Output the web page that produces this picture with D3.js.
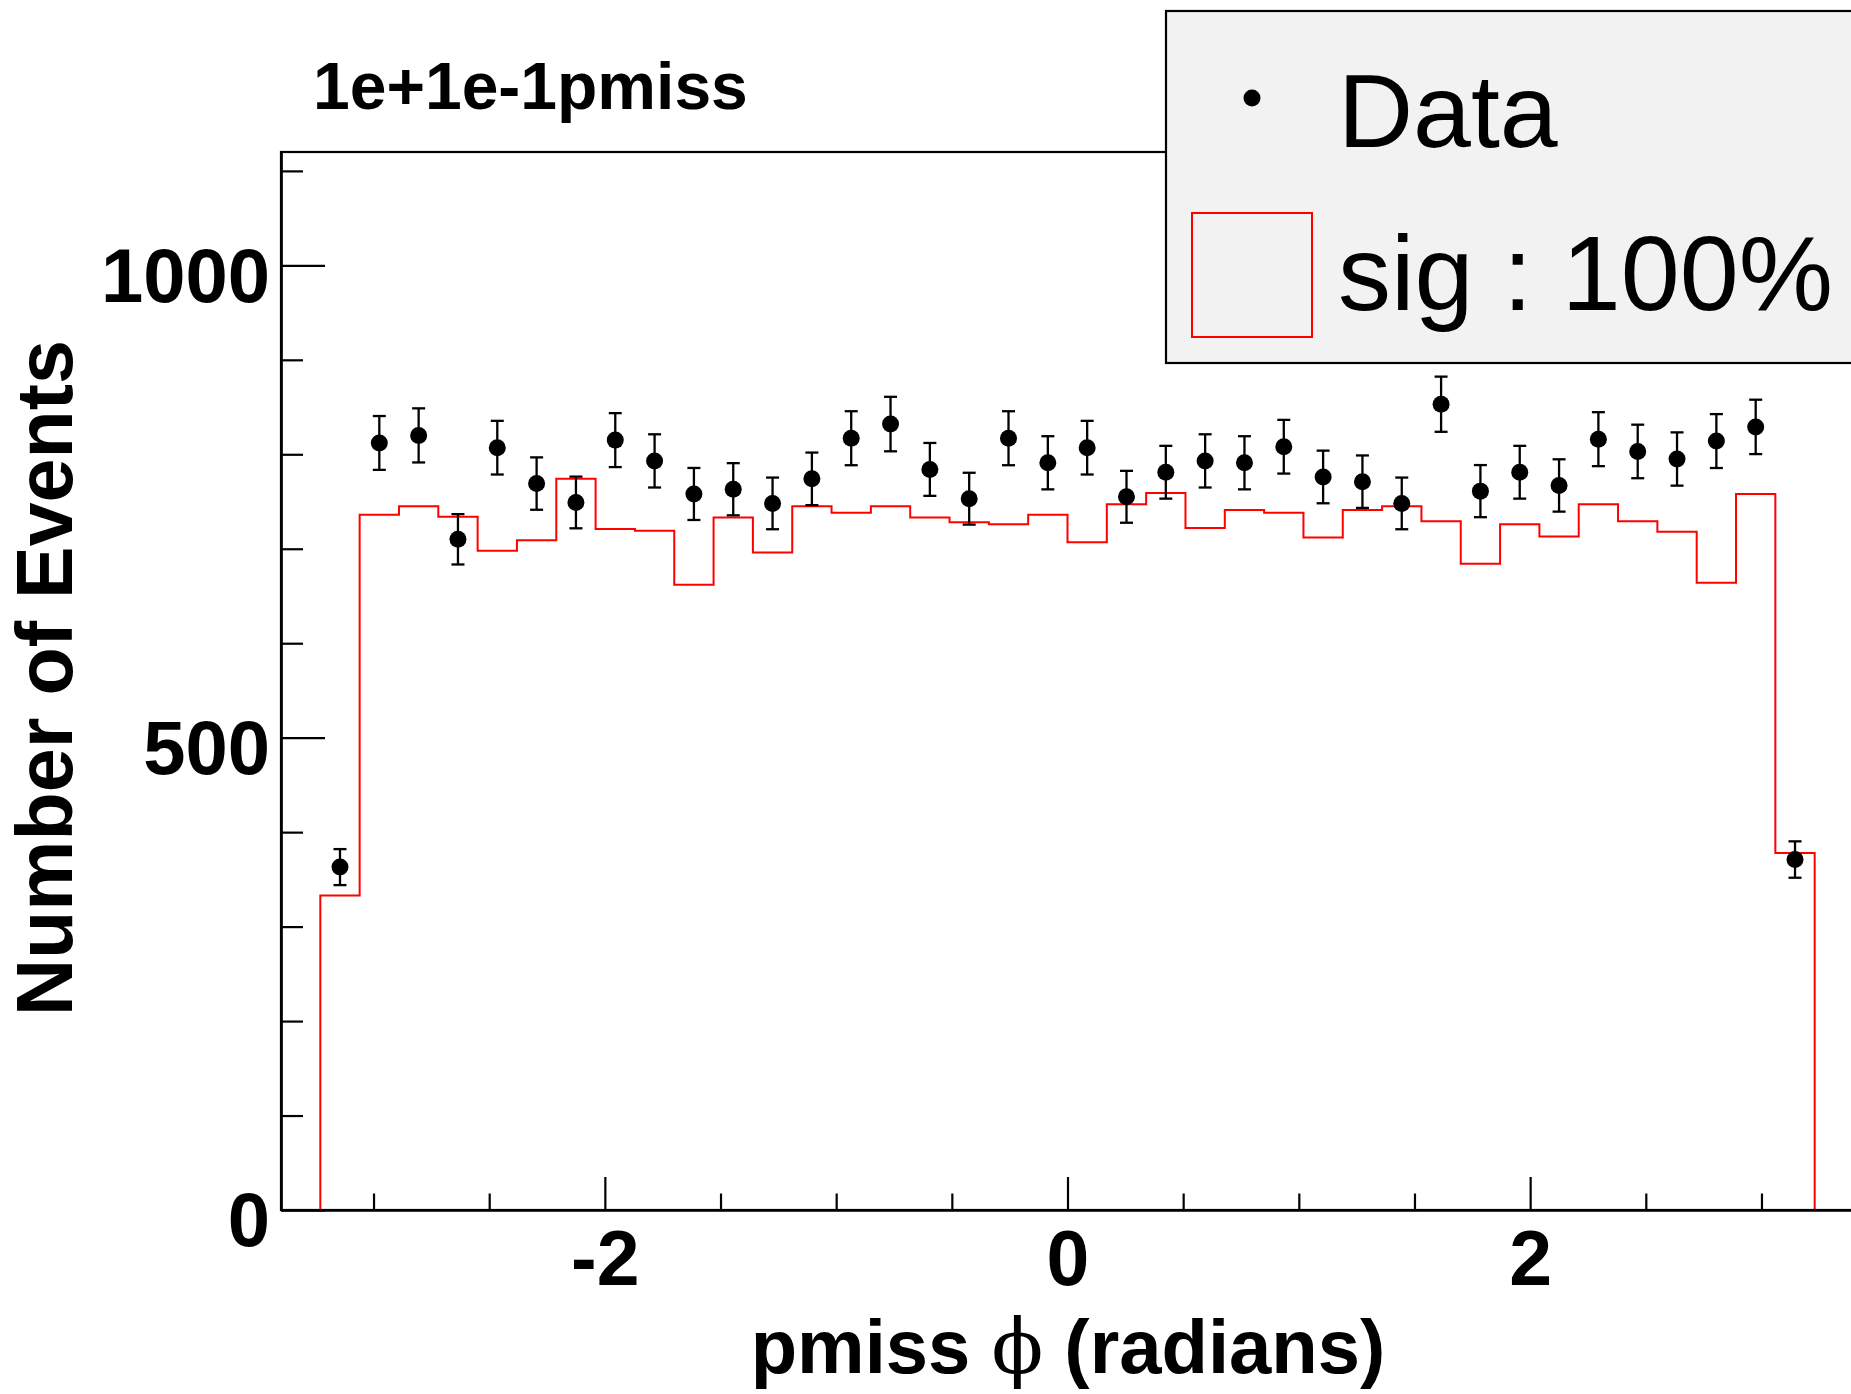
<!DOCTYPE html>
<html>
<head>
<meta charset="utf-8">
<script src="https://cdn.jsdelivr.net/npm/d3@7"></script>
<style>
  html, body { margin: 0; padding: 0; background: #ffffff; }
  svg { display: block; }
  text { font-family: "Liberation Sans", Arial, Helvetica, sans-serif; }
</style>
</head>
<body>
<script>
// pmiss phi distribution: 38 bins from -3.23 to 3.23 rad
const binLow = -3.23;
const binWidth = 0.17;
const dataCounts = [363, 812, 820, 710, 807, 769, 749, 815, 793, 758, 763, 748, 774, 817, 832, 784, 753, 817, 791,
                    807, 755, 781, 793, 791, 808, 776, 771, 748, 853, 761, 781, 767, 816, 803, 795, 814, 829, 371];
const sigCounts  = [333, 736, 745, 734, 698, 709, 774, 721, 719, 662, 733, 696, 745, 738, 745, 733, 728, 726, 736,
                    707, 747, 759, 722, 741, 738, 712, 741, 745, 729, 684, 726, 713, 747, 729, 718, 664, 758, 378];
const xMajorTicks = [-2, 0, 2];
const xMinorTicks = [-3, -2.5, -1.5, -1, -0.5, 0.5, 1, 1.5, 2.5, 3];
const yMajorTicks = [0, 500, 1000];
const yMinorTicks = [100, 200, 300, 400, 600, 700, 800, 900, 1100];
const titleText = "1e+1e-1pmiss";
const legendLabels = ["Data", "sig : 100%"];

const W = 1851, H = 1394;
const frame = { left: 281, top: 152, right: 1854, bottom: 1210 };

const svg = d3.select("body").append("svg")
  .attr("width", W).attr("height", H)
  .attr("viewBox", `0 0 ${W} ${H}`);

const x = d3.scaleLinear().domain([-3.4, 3.4]).range([frame.left, frame.right]);
const y = d3.scaleLinear().domain([0, 1120]).range([frame.bottom, frame.top]);

// signal histogram outline (step line, running along zero outside the filled range)
const edges = d3.range(sigCounts.length + 1).map(i => binLow + i * binWidth);
const stepPts = [[x.domain()[0], 0], [edges[0], 0]];
sigCounts.forEach((v, i) => { stepPts.push([edges[i], v]); stepPts.push([edges[i + 1], v]); });
stepPts.push([edges[edges.length - 1], 0]);
stepPts.push([x.domain()[1], 0]);
svg.append("path")
  .attr("d", d3.line().x(d => x(d[0])).y(d => y(d[1]))(stepPts))
  .attr("fill", "none")
  .attr("stroke", "#ff0000")
  .attr("stroke-width", 2);

// frame
svg.append("rect")
  .attr("x", frame.left).attr("y", frame.top)
  .attr("width", frame.right - frame.left).attr("height", frame.bottom - frame.top)
  .attr("fill", "none").attr("stroke", "#000").attr("stroke-width", 2.2);

// y axis: ticks point into the frame
const yMinor = svg.append("g").attr("transform", `translate(${frame.left},0)`)
  .call(d3.axisLeft(y).tickValues(yMinorTicks).tickSize(-22).tickSizeOuter(0).tickFormat(""));
const yMajor = svg.append("g").attr("transform", `translate(${frame.left},0)`)
  .call(d3.axisLeft(y).tickValues(yMajorTicks).tickSize(-44).tickSizeOuter(0).tickPadding(11).tickFormat(d3.format("d")));
yMajor.selectAll("text")
  .attr("dy", "0.47em")
  .style("font-size", "76px").style("font-weight", "bold").attr("fill", "#000");

// x axis
const xMinor = svg.append("g").attr("transform", `translate(0,${frame.bottom})`)
  .call(d3.axisBottom(x).tickValues(xMinorTicks).tickSize(-16.5).tickSizeOuter(0).tickFormat(""));
const xMajor = svg.append("g").attr("transform", `translate(0,${frame.bottom})`)
  .call(d3.axisBottom(x).tickValues(xMajorTicks).tickSize(-33).tickSizeOuter(0).tickPadding(20).tickFormat(d3.format("d")));
xMajor.selectAll("text")
  .text(d => d < 0 ? "-" + Math.abs(d) : String(d))
  .style("font-size", "77px").style("font-weight", "bold").attr("fill", "#000");

[yMinor, yMajor, xMinor, xMajor].forEach(g => {
  g.selectAll("line").attr("stroke", "#000").attr("stroke-width", 2.2);
  g.select(".domain").attr("stroke", "#000").attr("stroke-width", 2.2);
});

// data points with Poisson error bars
const centers = dataCounts.map((v, i) => binLow + (i + 0.5) * binWidth);
const pts = svg.append("g");
dataCounts.forEach((v, i) => {
  const cx = x(centers[i]);
  const err = Math.sqrt(v);
  const yTop = y(v + err), yBot = y(v - err);
  pts.append("line").attr("x1", cx).attr("x2", cx).attr("y1", yTop).attr("y2", yBot)
    .attr("stroke", "#000").attr("stroke-width", 2.3);
  [yTop, yBot].forEach(yy => pts.append("line")
    .attr("x1", cx - 6.5).attr("x2", cx + 6.5).attr("y1", yy).attr("y2", yy)
    .attr("stroke", "#000").attr("stroke-width", 2.3));
  pts.append("circle").attr("cx", cx).attr("cy", y(v)).attr("r", 8.5).attr("fill", "#000");
});

// title
svg.append("text")
  .attr("x", 313).attr("y", 109)
  .style("font-size", "66px").style("font-weight", "bold")
  .text(titleText);

// axis titles
const xTitle = svg.append("text")
  .attr("x", 1068).attr("y", 1373)
  .attr("text-anchor", "middle")
  .style("font-size", "76px").style("font-weight", "bold");
xTitle.append("tspan").text("pmiss ");
xTitle.append("tspan").text("\u03D5")
  .style("font-family", "'DejaVu Serif', 'Liberation Serif', serif")
  .style("font-weight", "normal").style("font-size", "76px");
xTitle.append("tspan").text(" (radians)");

svg.append("text")
  .attr("transform", `translate(72,678) rotate(-90)`)
  .attr("text-anchor", "middle")
  .style("font-size", "79px").style("font-weight", "bold")
  .text("Number of Events");

// legend
const legend = svg.append("g");
legend.append("rect")
  .attr("x", 1166).attr("y", 11).attr("width", 720).attr("height", 352)
  .attr("fill", "#f2f2f2").attr("stroke", "#000").attr("stroke-width", 2.2);
legend.append("circle").attr("cx", 1252).attr("cy", 98).attr("r", 8.5).attr("fill", "#000");
legend.append("rect")
  .attr("x", 1192).attr("y", 213).attr("width", 120).attr("height", 124)
  .attr("fill", "none").attr("stroke", "#ff0000").attr("stroke-width", 2);
legend.append("text").attr("x", 1338).attr("y", 147)
  .style("font-size", "104px").text(legendLabels[0]);
legend.append("text").attr("x", 1338).attr("y", 310)
  .style("font-size", "106px").text(legendLabels[1]);
</script>
</body>
</html>
